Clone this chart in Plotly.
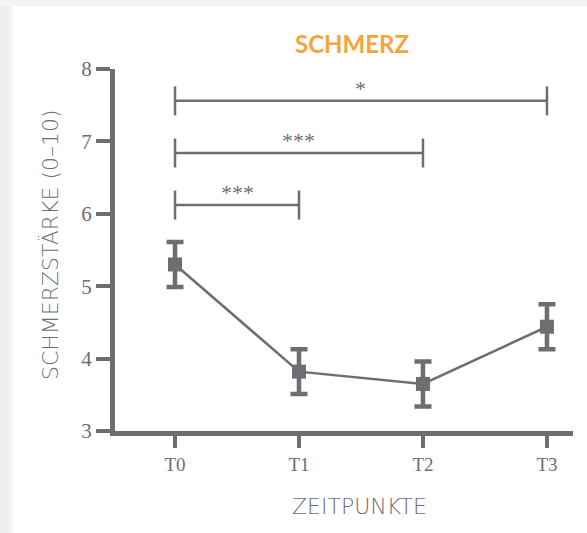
import plotly.graph_objects as go

categories = ["T0", "T1", "T2", "T3"]
means = [5.30, 3.82, 3.65, 4.44]
errors = [0.31, 0.31, 0.31, 0.31]
y_ticks = [3, 4, 5, 6, 7, 8]
# significance brackets: (start index, end index, height, label)
sig_start = [0, 0, 0]
sig_end = [3, 2, 1]
sig_height = [7.56, 6.84, 6.12]
sig_label = ["*", "***", "***"]

GRAY = "#6d6e71"
x_idx = list(range(len(categories)))

fig = go.Figure()
fig.add_trace(go.Scatter(
    x=x_idx, y=means, mode="lines+markers",
    line=dict(color=GRAY, width=2.5),
    marker=dict(symbol="square", size=14, color=GRAY),
    error_y=dict(type="data", array=errors, visible=True, color=GRAY, thickness=4.5, width=8.5),
    showlegend=False, hoverinfo="skip",
))

shapes = []
annotations = []
cap = 0.2
for s, e, h, lab in zip(sig_start, sig_end, sig_height, sig_label):
    shapes.append(dict(type="line", x0=s, x1=e, y0=h, y1=h, xref="x", yref="y",
                       line=dict(color=GRAY, width=2.5)))
    for xx in (s, e):
        shapes.append(dict(type="line", x0=xx, x1=xx, y0=h - cap, y1=h + cap, xref="x", yref="y",
                           line=dict(color=GRAY, width=2.5)))
    annotations.append(dict(x=(s + e) / 2, y=h, xref="x", yref="y", text=lab, showarrow=False,
                            yanchor="bottom", yshift=-2,
                            font=dict(family="Liberation Serif", size=22, color=GRAY)))

W_PLOT, H_PLOT = 458, 362
L, T = 115, 69
def px_x(p):
    return (p - L) / W_PLOT
def px_y(p):
    return 1 - (p - T) / H_PLOT

# card shadow on left and top
shapes.append(dict(type="rect", xref="paper", yref="paper", x0=px_x(0), x1=px_x(10),
                   y0=px_y(533), y1=px_y(0), fillcolor="#eeeeee", line=dict(width=0), layer="below"))
shapes.append(dict(type="rect", xref="paper", yref="paper", x0=px_x(10), x1=px_x(13),
                   y0=px_y(533), y1=px_y(0), fillcolor="#f7f7f7", line=dict(width=0), layer="below"))
shapes.append(dict(type="rect", xref="paper", yref="paper", x0=px_x(0), x1=px_x(587),
                   y0=px_y(6), y1=px_y(0), fillcolor="#f3f3f3", line=dict(width=0), layer="below"))

annotations.append(dict(x=px_x(352), y=px_y(43), xref="paper", yref="paper",
                        text="<b>SCHMERZ</b>", showarrow=False, xanchor="center", yanchor="middle",
                        font=dict(family="Lato", size=24, color="#f7a539")))
annotations.append(dict(x=px_x(359), y=px_y(507), xref="paper", yref="paper",
                        text="ZEITPUNKTE", showarrow=False, xanchor="center", yanchor="middle",
                        font=dict(family="DejaVu Sans", size=22, color=GRAY, weight=200)))
annotations.append(dict(x=px_x(50), y=px_y(245), xref="paper", yref="paper", textangle=-90,
                        text="SCHMERZSTÄRKE (0–10)", showarrow=False, xanchor="center", yanchor="middle",
                        font=dict(family="DejaVu Sans", size=22, color=GRAY, weight=200)))

fig.update_layout(
    width=587, height=533,
    margin=dict(l=L, r=14, t=T, b=102, autoexpand=False),
    paper_bgcolor="white", plot_bgcolor="white",
    shapes=shapes, annotations=annotations,
    xaxis=dict(
        range=[-0.484, 3.21], tickmode="array", tickvals=x_idx, ticktext=categories,
        showgrid=False, zeroline=False, showline=True, linecolor=GRAY, linewidth=5,
        ticks="outside", ticklen=12, tickwidth=4, tickcolor=GRAY, automargin=False,
        tickfont=dict(family="Liberation Serif", size=19, color=GRAY),
    ),
    yaxis=dict(
        range=[3, 8], tickmode="array", tickvals=y_ticks,
        showgrid=False, zeroline=False, showline=True, linecolor=GRAY, linewidth=5,
        ticks="outside", ticklen=14, tickwidth=4, tickcolor=GRAY, automargin=False,
        tickfont=dict(family="Liberation Serif", size=21, color=GRAY),
    ),
)

fig.write_html("out.html", config={"displayModeBar": False},
               post_script="document.body.style.margin='0px';")
